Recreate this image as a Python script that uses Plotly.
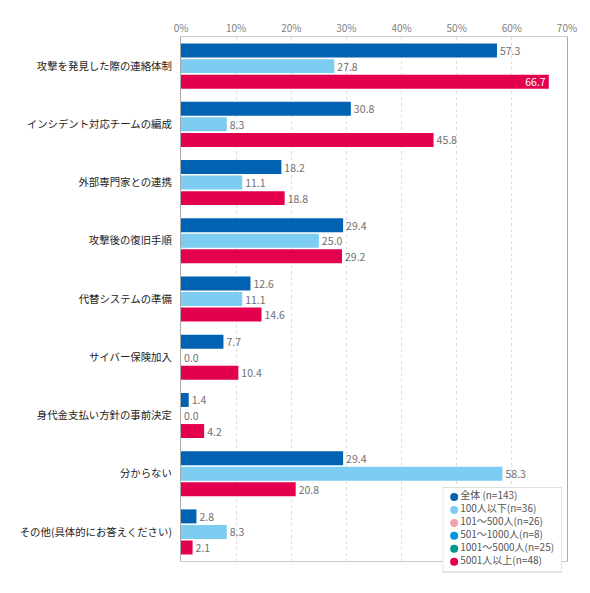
import plotly.graph_objects as go

categories = [
    '攻撃を発見した際の連絡体制',
    'インシデント対応チームの編成',
    '外部専門家との連携',
    '攻撃後の復旧手順',
    '代替システムの準備',
    'サイバー保険加入',
    '身代金支払い方針の事前決定',
    '分からない',
    'その他(具体的にお答えください)',
]

zentai = [57.3, 30.8, 18.2, 29.4, 12.6, 7.7, 1.4, 29.4, 2.8]
under100 = [27.8, 8.3, 11.1, 25.0, 11.1, 0.0, 0.0, 58.3, 8.3]
over5001 = [66.7, 45.8, 18.8, 29.2, 14.6, 10.4, 4.2, 20.8, 2.1]

legend_names = ['全体 (n=143)', '100人以下(n=36)', '101～500人(n=26)',
                '501～1000人(n=8)', '1001～5000人(n=25)', '5001人以上(n=48)']
legend_colors = ['#0062b0', '#7dccf2', '#f4a0ae', '#0096de', '#009490', '#e3004f']

FONT = 'Noto Sans CJK JP'
BAR_W = 0.24

fig = go.Figure()

series = [
    (zentai, legend_colors[0], -0.387),
    (under100, legend_colors[1], -0.12),
    (over5001, legend_colors[5], 0.147),
]
for vals, col, off in series:
    fig.add_trace(go.Bar(
        x=vals, y=categories, orientation='h',
        marker=dict(color=col, line=dict(width=0)),
        width=BAR_W, offset=off,
        text=[f'{v:.1f}' for v in vals],
        textposition=['inside' if v > 62 else 'outside' for v in vals],
        insidetextanchor='end',
        insidetextfont=dict(color='white', size=10.5, family=FONT),
        outsidetextfont=dict(color='#707070', size=10.5, family=FONT),
        constraintext='none',
        cliponaxis=False,
        showlegend=False,
        hoverinfo='x+y',
    ))

# legend box + entries drawn on a small axis of its own
fig.add_shape(type='rect', xref='x2', yref='y2',
              x0=0, x1=1, y0=-0.746, y1=5.79,
              line=dict(color='#cccccc', width=1), fillcolor='white',
              layer='between')

fig.add_trace(go.Scatter(
    x=[0.096] * len(legend_names),
    y=list(range(len(legend_names))),
    mode='markers+text',
    marker=dict(color=legend_colors, size=8),
    text=legend_names,
    textposition='middle right',
    textfont=dict(color='#555555', size=10, family=FONT),
    xaxis='x2', yaxis='y2',
    cliponaxis=False,
    showlegend=False,
    hoverinfo='skip',
))

# page body has an 8px margin, so the figure is a bit smaller than the window
fig.update_layout(
    width=582, height=585,
    margin=dict(l=164, r=23, t=27, b=18),
    paper_bgcolor='white',
    plot_bgcolor='white',
    font=dict(family=FONT, size=10.4, color='#222222'),
    barmode='overlay',
    xaxis=dict(
        range=[0, 70], side='top', dtick=10, ticksuffix='%',
        tickfont=dict(color='#808080', size=10),
        showgrid=True, gridcolor='#dddddd', griddash='dot', gridwidth=1,
        showline=True, linecolor='#cccccc', mirror=True,
        zeroline=False, ticks='', fixedrange=True,
    ),
    yaxis=dict(
        domain=[0.0259, 1],
        categoryorder='array', categoryarray=categories,
        autorange='reversed',
        showline=True, linecolor='#aaaaaa', mirror=True,
        ticks='', ticklabelstandoff=6,
        tickfont=dict(color='#222222', size=10.4),
    ),
    xaxis2=dict(domain=[0.678, 0.987], range=[0, 1], visible=False,
                anchor='y2', fixedrange=True),
    yaxis2=dict(domain=[0, 0.163], range=[6.023, -0.746], visible=False,
                anchor='x2', fixedrange=True),
)

fig.write_html('out.html')
